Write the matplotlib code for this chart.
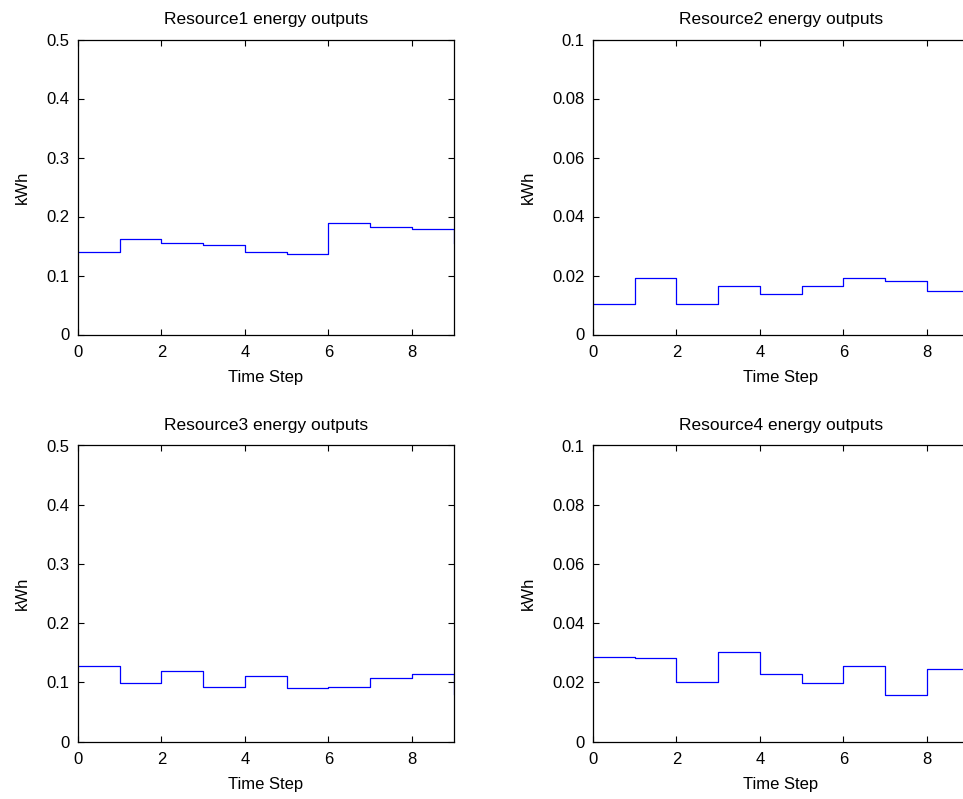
import matplotlib
matplotlib.use('Agg')
import matplotlib.pyplot as plt

plt.rcParams['font.family'] = ['Liberation Sans', 'DejaVu Sans']

time_steps = [0, 1, 2, 3, 4, 5, 6, 7, 8, 9]
resource1 = [0.139, 0.162, 0.155, 0.152, 0.139, 0.136, 0.189, 0.183, 0.178, 0.155]
resource2 = [0.0105, 0.0193, 0.0105, 0.0163, 0.0136, 0.0163, 0.0193, 0.0183, 0.0146, 0.0146]
resource3 = [0.127, 0.098, 0.119, 0.092, 0.111, 0.090, 0.092, 0.108, 0.114, 0.080]
resource4 = [0.0287, 0.0282, 0.0200, 0.0303, 0.0228, 0.0197, 0.0255, 0.0158, 0.0245, 0.0245]

titles = ['Resource1 energy outputs', 'Resource2 energy outputs',
          'Resource3 energy outputs', 'Resource4 energy outputs']
series = [resource1, resource2, resource3, resource4]
ylims = [0.5, 0.1, 0.5, 0.1]
yticks = [[0, 0.1, 0.2, 0.3, 0.4, 0.5],
          [0, 0.02, 0.04, 0.06, 0.08, 0.1],
          [0, 0.1, 0.2, 0.3, 0.4, 0.5],
          [0, 0.02, 0.04, 0.06, 0.08, 0.1]]
ytick_labels = [['0', '0.1', '0.2', '0.3', '0.4', '0.5'],
                ['0', '0.02', '0.04', '0.06', '0.08', '0.1'],
                ['0', '0.1', '0.2', '0.3', '0.4', '0.5'],
                ['0', '0.02', '0.04', '0.06', '0.08', '0.1']]

fig = plt.figure(figsize=(9.63, 7.99), dpi=100)
W, H = 963.0, 799.0
# axes boxes in pixels: left, top, right, bottom
boxes = [(78, 39.5, 453.5, 334.5), (593, 39.5, 968.5, 334.5),
         (78, 445.5, 453.5, 741.5), (593, 445.5, 968.5, 741.5)]

for i in range(4):
    l, t, r, b = boxes[i]
    ax = fig.add_axes([l / W, 1 - b / H, (r - l) / W, (b - t) / H])
    ax.step(time_steps, series[i], where='post', color='#0000ff', lw=0.9)
    ax.set_xlim(0, 9)
    ax.set_ylim(0, ylims[i])
    ax.set_xticks([0, 2, 4, 6, 8])
    ax.set_yticks(yticks[i])
    ax.set_yticklabels(ytick_labels[i])
    ax.tick_params(direction='in', top=True, right=True, length=4, width=0.8,
                   labelsize=12)
    ax.tick_params(axis='x', pad=7.5)
    ax.tick_params(axis='y', pad=6)
    for s in ax.spines.values():
        s.set_linewidth(0.9)
    ax.set_title(titles[i], fontsize=12.5, pad=11)
    ax.set_xlabel('Time Step', fontsize=12, labelpad=7)
    ax.set_ylabel('kWh', fontsize=12, labelpad=12)

fig.savefig('out.png', dpi=100)
